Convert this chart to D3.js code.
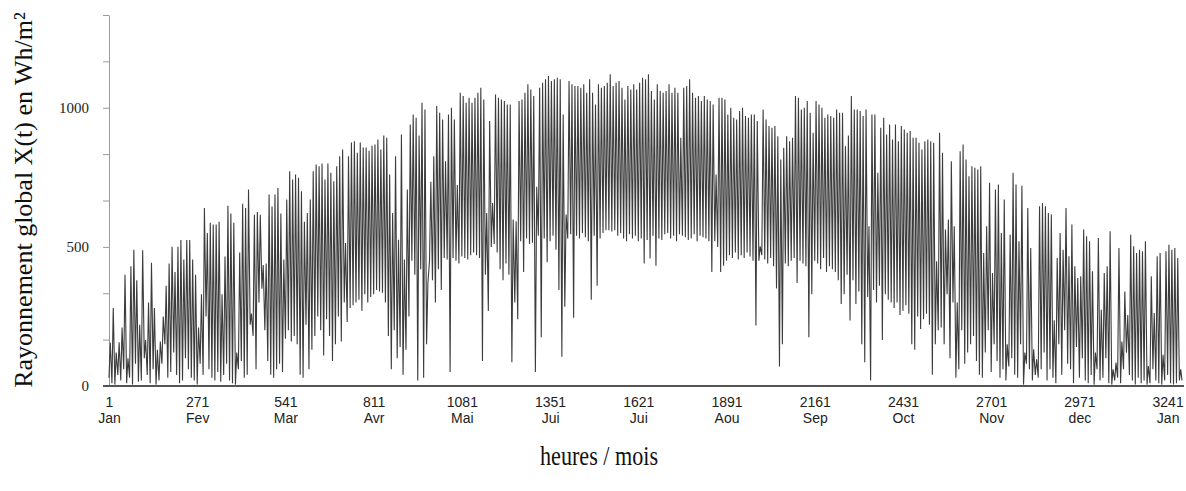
<!DOCTYPE html>
<html><head><meta charset="utf-8">
<script src="https://cdn.jsdelivr.net/npm/d3@7"></script>
<style>body{margin:0;background:#fff} svg{display:block}</style>
</head><body><svg id="c" width="1186" height="491"></svg>
<script>
// ---- data ----
const tickHours = [1, 271, 541, 811, 1081, 1351, 1621, 1891, 2161, 2431, 2701, 2971, 3241];
const monthLabels = ["Jan", "Fev", "Mar", "Avr", "Mai", "Jui", "Jui", "Aou", "Sep", "Oct", "Nov", "dec", "Jan"];
const yLabelValues = [0, 500, 1000];
const hoursPerDay = 9;
// daily maximum (midday) of X(t), Wh/m2
const dailyPeak = [
  155, 280, 120, 157, 210, 400, 100, 430, 490, 380, 220, 488, 165, 300, 443, 280, 130, 160, 250, 360, 440, 500, 410, 500, 525, 455, 525, 525, 455, 400, 210, 330, 640,
  550, 587, 580, 580, 590, 330, 465, 648, 620, 587, 120, 480, 655, 640, 706, 260, 615, 625, 615, 435, 440, 688, 645, 688, 712, 620, 455, 670, 772, 742, 760, 748, 700, 590,
  622, 670, 772, 796, 790, 800, 742, 800, 766, 736, 790, 826, 850, 514, 826, 875, 880, 838, 875, 857, 857, 845, 863, 868, 886, 850, 900, 892, 760, 622, 826, 526, 904, 455, 706, 940,
  976, 964, 900, 1018, 994, 370, 734, 826, 1006, 982, 958, 808, 976, 1000, 958, 722, 1054, 1042, 1018, 1036, 1018, 1036, 1054, 1072, 1030, 622, 952, 658, 1048, 1036, 1030, 1024, 1012, 1012, 598, 592,
  1024, 1030, 1054, 1084, 1066, 1042, 716, 1072, 1090, 1102, 1114, 1096, 1102, 1108, 1102, 976, 616, 1096, 1084, 1078, 1078, 1072, 1084, 1054, 1102, 1054, 1012, 1084, 1072, 1078, 1090, 1120, 1078, 1090, 1096, 1072,
  1030, 1078, 1066, 1084, 1066, 1090, 1108, 1102, 1120, 1060, 1030, 1084, 1060, 1054, 1060, 1084, 1054, 1072, 1054, 892, 1072, 1078, 1102, 1054, 1036, 1042, 1024, 1042, 1030, 1024, 1012, 760, 1036, 1036, 1030, 976,
  1000, 964, 958, 988, 1000, 970, 964, 976, 976, 952, 502, 994, 958, 934, 928, 934, 898, 814, 856, 898, 880, 892, 1042, 1036, 994, 1000, 1024, 982, 910, 1024, 1012, 1000, 964, 976, 970, 964,
  994, 982, 982, 862, 900, 1042, 994, 994, 988, 970, 994, 574, 976, 976, 766, 928, 964, 904, 940, 886, 940, 880, 934, 922, 910, 916, 892, 892, 874, 850, 880, 886, 880, 874, 448, 910,
  838, 562, 598, 808, 574, 300, 844, 868, 814, 754, 790, 784, 778, 790, 478, 574, 730, 406, 706, 724, 550, 670, 150, 544, 766, 724, 520, 720, 120, 640, 496, 132, 96, 646, 658, 646,
  622, 616, 236, 460, 550, 490, 640, 466, 580, 430, 388, 394, 562, 538, 520, 412, 120, 532, 274, 406, 430, 556, 60, 84, 496, 160, 340, 255, 544, 502, 478, 490, 484, 520, 72, 394, 262, 466, 478, 112, 484, 508, 490, 496, 460, 60
];
// value at the start/end of each daylight period
const dailyLow = [
  30, 10, 5, 40, 20, 60, 10, 30, 5, 80, 15, 20, 100, 40, 10, 60, 5, 20, 80, 150, 30, 50, 120, 40, 10, 20, 100, 60, 30, 20, 5, 80, 40,
  250, 60, 30, 20, 50, 15, 40, 80, 20, 10, 5, 60, 90, 30, 40, 220, 180, 60, 300, 350, 200, 90, 40, 30, 60, 80, 50, 170, 200, 160, 180, 150, 40, 30,
  220, 60, 130, 180, 250, 200, 110, 240, 180, 90, 150, 250, 160, 300, 230, 280, 290, 300, 310, 270, 330, 300, 320, 330, 345, 340, 335, 300, 180, 60, 200, 100, 140, 40, 130, 250,
  450, 400, 20, 420, 30, 150, 450, 380, 300, 420, 345, 460, 455, 50, 460, 450, 440, 465, 460, 455, 470, 480, 470, 460, 90, 400, 270, 500, 510, 480, 420, 380, 440, 400, 85, 300,
  240, 520, 410, 530, 510, 515, 50, 540, 175, 530, 445, 520, 540, 490, 345, 105, 285, 530, 545, 245, 540, 530, 550, 535, 520, 310, 540, 360, 530, 550, 560, 560, 555, 560, 540, 550,
  530, 520, 545, 530, 540, 520, 530, 440, 525, 458, 540, 432, 530, 525, 545, 550, 530, 540, 520, 545, 540, 535, 525, 530, 545, 520, 540, 535, 530, 520, 410, 520, 500, 410, 432, 450,
  470, 460, 480, 455, 470, 460, 480, 465, 450, 217, 450, 470, 455, 440, 460, 430, 350, 70, 150, 440, 430, 450, 460, 370, 450, 440, 430, 175, 330, 450, 440, 420, 460, 410, 430, 420,
  410, 380, 295, 330, 400, 235, 380, 295, 340, 150, 85, 320, 20, 345, 300, 360, 165, 330, 310, 300, 280, 300, 255, 270, 290, 260, 150, 130, 250, 205, 240, 260, 220, 40, 150, 200,
  210, 150, 330, 100, 300, 30, 60, 200, 80, 120, 150, 180, 90, 40, 30, 120, 200, 50, 150, 90, 30, 60, 20, 70, 100, 40, 30, 150, 5, 80, 60, 20, 40, 30, 60, 120,
  20, 60, 30, 10, 150, 40, 200, 80, 60, 10, 140, 30, 100, 20, 10, 40, 5, 60, 20, 30, 100, 10, 5, 20, 30, 10, 60, 120, 40, 20, 5, 30, 10, 20, 5, 10, 60, 20, 10, 5, 20, 40, 10, 5, 10, 20
];

// ---- chart ----
const svg = d3.select("#c");
const nDays = Math.min(dailyPeak.length, dailyLow.length);
const x = d3.scaleLinear().domain([1, 3285]).range([109, 1182]);
const y = d3.scaleLinear().domain([0, 4000 / 3]).range([386, 15]);

const pts = [];
for (let d = 0; d < nDays; d++) {
  pts.push({h: d * hoursPerDay + 1, v: dailyLow[d]});
  pts.push({h: d * hoursPerDay + 5, v: dailyPeak[d]});
}
pts.push({h: nDays * hoursPerDay, v: dailyLow[nDays - 1]});

// y axis
const yAxis = d3.axisLeft(y)
  .tickValues(d3.range(0, 1334, 500 / 3))
  .tickSize(6).tickSizeOuter(0)
  .tickFormat(v => yLabelValues.some(l => Math.abs(l - v) < 1e-6) ? d3.format("d")(Math.round(v)) : "");
const gy = svg.append("g").attr("transform", "translate(109,0)").call(yAxis);
gy.select(".domain").attr("stroke", "#9a9a9a");
gy.selectAll(".tick line").attr("stroke", "#9a9a9a");
gy.selectAll(".tick text")
  .attr("x", -20).attr("font-family", "'Liberation Serif', 'Times New Roman', serif")
  .attr("font-size", 15).attr("fill", "#222");

// data line
svg.append("path").datum(pts)
  .attr("fill", "none").attr("stroke", "#3c3c3c").attr("stroke-width", 1.1)
  .attr("stroke-linejoin", "miter")
  .attr("d", d3.line().x(p => x(p.h)).y(p => y(p.v)));

// x axis
const xAxis = d3.axisBottom(x).tickValues(tickHours).tickSize(0).tickSizeOuter(0).tickFormat("");
const gx = svg.append("g").attr("transform", "translate(0,386)").call(xAxis);
gx.select(".domain").remove();
gx.append("line").attr("x1", 103).attr("x2", 1184).attr("y1", 0).attr("y2", 0)
  .attr("stroke", "#555").attr("stroke-width", 2);
const tickFont = "'Liberation Sans Narrow', 'Liberation Sans', Arial, sans-serif";
gx.selectAll(".tick").each(function(h, i) {
  const g = d3.select(this);
  g.append("text").attr("y", 21).attr("text-anchor", "middle")
    .attr("font-family", tickFont).attr("font-size", 14).attr("fill", "#222").text(h);
  g.append("text").attr("y", 37).attr("text-anchor", "middle")
    .attr("font-family", tickFont).attr("font-size", 14).attr("fill", "#222").text(monthLabels[i]);
});

// titles
svg.append("text")
  .attr("transform", "translate(32,200) rotate(-90)")
  .attr("text-anchor", "middle")
  .attr("font-family", "'Liberation Serif', 'Times New Roman', serif")
  .attr("font-size", 26).attr("fill", "#111")
  .text("Rayonnement global X(t) en Wh/m²");
svg.append("text")
  .attr("x", 599).attr("y", 465).attr("text-anchor", "middle")
  .attr("font-family", "'Liberation Serif', 'Times New Roman', serif")
  .attr("font-size", 27).attr("fill", "#111")
  .attr("textLength", 118).attr("lengthAdjust", "spacingAndGlyphs")
  .text("heures / mois");
</script>
</body></html>
